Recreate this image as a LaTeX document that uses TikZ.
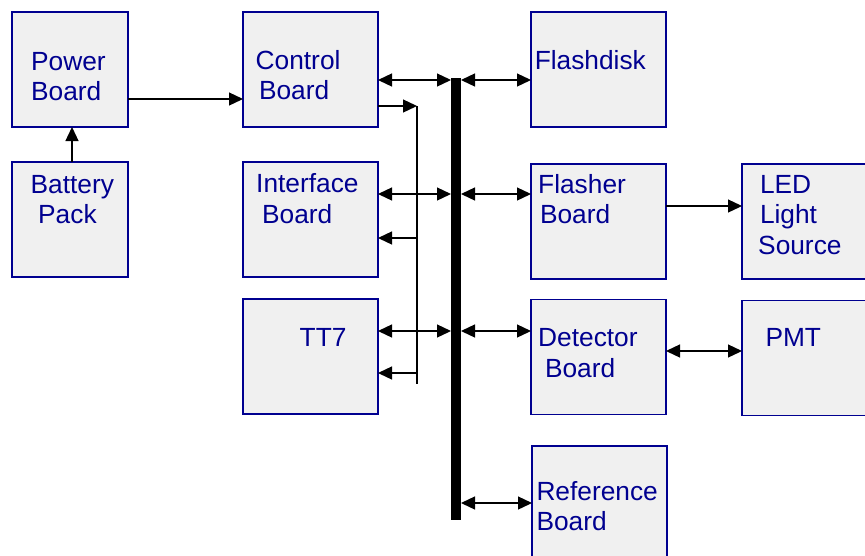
\documentclass[tikz,border=0pt]{standalone}
\usepackage{fontspec}
\setmainfont{Liberation Sans}
\usetikzlibrary{arrows.meta}
\definecolor{boxfill}{HTML}{F0F0F0}
\definecolor{navy}{HTML}{000090}
\tikzset{
  unit/.style={draw=navy, line width=1.6pt, fill=boxfill, rectangle,
    minimum width=135pt, minimum height=115pt, inner sep=0pt, outer sep=0pt},
  narrow/.style={unit, minimum width=116pt},
  wide/.style={unit, minimum width=128pt},
  % anchored at the baseline of the last caption line
  lbl/.style={text=navy, inner sep=0pt, anchor=base west, align=left,
    font=\fontsize{26.3pt}{30.5pt}\selectfont},
  wire/.style={line width=1.3pt, draw=black},
  tip/.style={-{Triangle[length=14pt,width=13pt]}},
  both/.style={{Triangle[length=14pt,width=13pt]}-{Triangle[length=14pt,width=13pt]}},
}
\begin{document}
\begin{tikzpicture}[x=1pt, y=-1pt]
\clip (0,0) rectangle (865,555);
\fill[white] (0,0) rectangle (865,555);

% blocks
\node[narrow] (power)   at (70,69.5)    {};
\node[narrow] (battery) at (70,219.5)   {};
\node[unit]   (ctrl)    at (310.5,69.5) {};
\node[unit]   (iface)   at (310.5,219.5){};
\node[unit]   (tt7)     at (310.5,356.5){};
\node[unit]   (flash)   at (598.5,69.5) {};
\node[unit]   (flasher) at (598.5,221.5){};
\node[unit]   (det)     at (598.5,357)  {};
\node[unit]   (ref)     at (599.5,503.5){};
\node[wide]   (led)     at (806,221.5)  {};
\node[wide]   (pmt)     at (806,358)    {};

% block captions
\node[lbl] (tpower)   at (31,100.5)    {Power\\Board};
\node[lbl] (tbattery) at (30.5,223.5)  {Battery\\\hspace*{7.5pt}Pack};
\node[lbl] (tctrl)    at (255.5,99.8)  {Control\\\hspace*{3.3pt}Board};
\node[lbl] (tiface)   at (256,223)     {Interface\\\hspace*{6pt}Board};
\node[lbl] (ttt7)     at (299.5,346.7) {TT7};
\node[lbl] (tflash)   at (534.6,69.3)  {Flashdisk};
\node[lbl] (tflasher) at (538,223.8)   {Flasher\\\hspace*{1.8pt}Board};
\node[lbl] (tdet)     at (538,377.2)   {Detector\\\hspace*{6.8pt}Board};
\node[lbl] (tref)     at (536.3,530.5) {Reference\\Board};
\node[lbl] (tled)     at (759.8,254)   {LED\\Light\\\hspace*{-1.8pt}Source};
\node[lbl] (tpmt)     at (765.3,346)   {PMT};

% system bus
\node[fill=black, minimum width=10pt, minimum height=442pt, inner sep=0pt, outer sep=0pt]
  (bus) at (456,299) {};

% control distribution line
\coordinate (tap)    at (417,106);
\coordinate (tapend) at (417,384);

% power path
\draw[wire,tip] (power.east |- 0,99) -- (ctrl.west |- 0,99);
\draw[wire,tip] (battery.north -| 72,0) -- (power.south -| 72,0);

% bus connections
\draw[wire,both] (ctrl.east |- 0,80)   -- (bus.west |- 0,80);
\draw[wire,both] (bus.east |- 0,80)    -- (flash.west |- 0,80);
\draw[wire,both] (iface.east |- 0,194) -- (bus.west |- 0,194);
\draw[wire,both] (bus.east |- 0,194)   -- (flasher.west |- 0,194);
\draw[wire,both] (tt7.east |- 0,331)   -- (bus.west |- 0,331);
\draw[wire,both] (bus.east |- 0,331)   -- (det.west |- 0,331);
\draw[wire,both] (bus.east |- 0,503)   -- (ref.west |- 0,503);

% control lines
\draw[wire,tip] (ctrl.east |- tap) -- (tap);
\draw[wire] (tap) -- (tapend);
\draw[wire,tip] (tap |- 0,238) -- (iface.east |- 0,238);
\draw[wire,tip] (tap |- 0,373) -- (tt7.east |- 0,373);

% optical and detector links
\draw[wire,tip]  (flasher.east |- 0,206) -- (led.west |- 0,206);
\draw[wire,both] (det.east |- 0,351)     -- (pmt.west |- 0,351);
\end{tikzpicture}
\end{document}
